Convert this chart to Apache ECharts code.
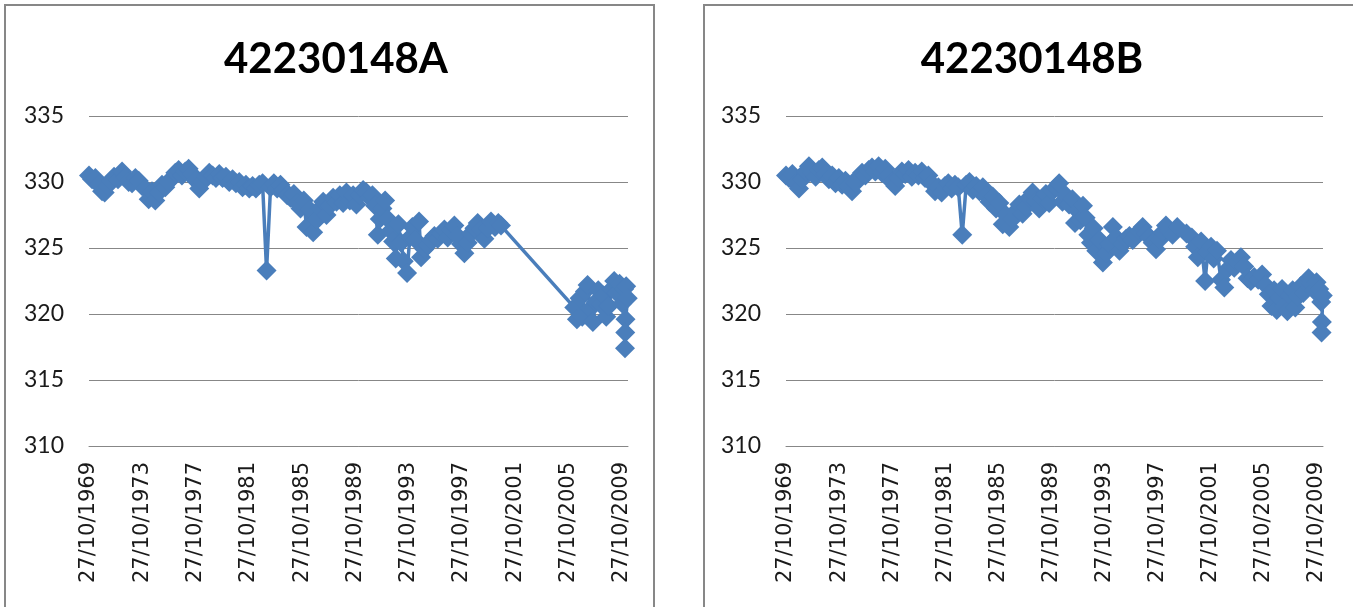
<!DOCTYPE html>
<html>
<head>
<meta charset="utf-8">
<script src="https://cdn.jsdelivr.net/npm/echarts@6/dist/echarts.min.js"></script>
<style>
  html, body { margin: 0; padding: 0; background: #fff; }
  #chart { width: 1353px; height: 607px; }
</style>
</head>
<body>
<div id="chart"></div>
<script>
// titles
let titleA = "42230148A";
let titleB = "42230148B";

// level axis ticks
let levelMin = 310;
let levelMax = 335;
let levelStep = 5;

// date axis: days since 27/10/1969, one label every 4 years (1461 days)
let firstYear = 1969.82;
let dateStep = 1461;
let dateMax = 14780;

// series A, decimal years and levels
let yearsA = [
  1969.82, 1970.05, 1970.30, 1970.55, 1970.80, 1971.00, 1971.20, 1971.45, 1971.70, 1972.00,
  1972.30, 1972.55, 1972.80, 1973.05, 1973.30, 1973.55, 1973.80, 1974.05, 1974.30, 1974.55,
  1974.80, 1975.05, 1975.30, 1975.55, 1975.80, 1976.05, 1976.30, 1976.55, 1976.80, 1977.05,
  1977.30, 1977.55, 1977.85, 1978.10, 1978.35, 1978.60, 1978.85, 1979.10, 1979.35, 1979.60,
  1979.85, 1980.10, 1980.35, 1980.60, 1980.85, 1981.10, 1981.35, 1981.60, 1981.85, 1982.10,
  1982.35, 1982.60, 1982.85, 1983.15, 1983.45, 1983.70, 1983.95, 1984.20, 1984.45, 1984.70,
  1984.95, 1985.20, 1985.45, 1985.70, 1985.95, 1986.15, 1986.40, 1986.65, 1986.90, 1987.15,
  1987.40, 1987.65, 1987.90, 1988.15, 1988.40, 1988.65, 1988.90, 1989.15, 1989.40, 1989.65,
  1989.90, 1990.15, 1990.40, 1990.65, 1990.90, 1991.10, 1991.30, 1991.50, 1991.65, 1991.85,
  1992.05, 1992.25, 1992.45, 1992.65, 1992.85, 1993.05, 1993.25, 1993.45, 1993.70, 1993.90,
  1994.10, 1994.35, 1994.60, 1994.75, 1995.00, 1995.25, 1995.50, 1995.75, 1996.00, 1996.25,
  1996.50, 1996.75, 1997.00, 1997.25, 1997.50, 1997.75, 1998.00, 1998.25, 1998.50, 1998.75,
  1999.00, 1999.25, 1999.50, 1999.75, 2000.00, 2000.30, 2000.55, 2000.75,
  2006.25, 2006.45, 2006.65, 2006.85, 2007.05, 2007.25, 2007.45, 2007.65, 2007.85, 2008.05,
  2008.25, 2008.45, 2008.65, 2008.85, 2009.05, 2009.25, 2009.45, 2009.65, 2009.85, 2010.00,
  2010.15, 2010.27, 2010.10, 2010.08, 2010.06
];
let levelsA = [
  330.5, 330.2, 330.3, 329.8, 329.3, 329.2, 329.7, 330.1, 330.4, 330.2,
  330.8, 330.4, 330.0, 329.9, 330.3, 330.1, 329.7, 329.5, 328.7, 329.3,
  328.6, 329.2, 329.8, 329.6, 330.0, 330.3, 330.7, 330.9, 330.5, 330.8,
  331.0, 330.6, 330.1, 329.5, 330.0, 330.4, 330.7, 330.5, 330.3, 330.6,
  330.3, 330.4, 330.0, 330.2, 329.9, 330.0, 329.6, 329.8, 329.5, 329.7,
  329.5, 329.8, 329.9, 323.3, 329.6, 329.9, 329.5, 329.8, 329.4, 329.0,
  328.8, 329.1, 328.4, 328.0, 328.6, 326.6, 327.9, 326.2, 327.1, 328.0,
  328.5, 327.5, 328.2, 328.8, 328.5, 329.0, 328.4, 329.2, 328.6, 329.0,
  328.3, 329.0, 329.4, 329.2, 328.8, 329.0, 328.2, 326.0, 327.2, 328.0,
  328.6, 327.2, 326.3, 325.5, 324.2, 326.8, 325.4, 324.0, 323.1, 325.8,
  326.6, 325.6, 327.0, 324.3, 324.9, 325.2, 325.6, 325.9, 325.7, 326.1,
  326.4, 325.8, 326.3, 326.7, 325.9, 325.3, 324.6, 325.4, 326.1, 326.5,
  326.9, 326.4, 325.7, 326.5, 327.0, 326.6, 326.9, 326.7,
  320.5, 319.6, 321.2, 319.8, 321.7, 322.2, 320.4, 319.4, 320.9, 321.8,
  320.7, 321.4, 319.8, 320.6, 321.9, 322.5, 321.6, 322.3, 320.8, 321.9,
  322.1, 321.2, 319.6, 318.6, 317.4
];

// series B, decimal years and levels
let yearsB = [
  1969.82, 1970.05, 1970.30, 1970.55, 1970.80, 1971.05, 1971.30, 1971.55, 1971.80, 1972.05,
  1972.30, 1972.55, 1972.80, 1973.05, 1973.30, 1973.55, 1973.80, 1974.05, 1974.30, 1974.55,
  1974.80, 1975.05, 1975.30, 1975.55, 1975.80, 1976.05, 1976.30, 1976.55, 1976.80, 1977.05,
  1977.30, 1977.55, 1977.80, 1978.05, 1978.30, 1978.55, 1978.80, 1979.05, 1979.30, 1979.55,
  1979.80, 1980.05, 1980.30, 1980.55, 1980.80, 1981.05, 1981.30, 1981.55, 1981.80, 1982.05,
  1982.30, 1982.55, 1982.80, 1983.10, 1983.40, 1983.65, 1983.90, 1984.15, 1984.40, 1984.65,
  1984.90, 1985.15, 1985.40, 1985.65, 1985.90, 1986.15, 1986.40, 1986.65, 1986.90, 1987.15,
  1987.40, 1987.65, 1987.90, 1988.15, 1988.40, 1988.65, 1988.90, 1989.15, 1989.40, 1989.65,
  1989.90, 1990.15, 1990.40, 1990.65, 1990.90, 1991.15, 1991.40, 1991.60, 1991.80, 1992.00,
  1992.20, 1992.40, 1992.60, 1992.80, 1993.00, 1993.20, 1993.45, 1993.70, 1993.95, 1994.20,
  1994.45, 1994.70, 1994.95, 1995.20, 1995.45, 1995.70, 1995.95, 1996.20, 1996.45, 1996.70,
  1996.95, 1997.20, 1997.45, 1997.70, 1997.95, 1998.20, 1998.45, 1998.70, 1998.95, 1999.30,
  2000.00, 2000.40, 2000.65, 2000.85, 2001.10, 2001.40, 2001.60, 2001.85, 2002.05, 2002.30,
  2002.60, 2002.85, 2003.10, 2003.35, 2003.60, 2003.85, 2004.10, 2004.35, 2004.60, 2004.85,
  2005.10, 2005.40, 2005.70, 2005.95, 2006.20, 2006.40, 2006.60, 2006.80, 2007.00, 2007.20,
  2007.40, 2007.60, 2007.80, 2008.00, 2008.20, 2008.40, 2008.60, 2008.80, 2009.00, 2009.20,
  2009.40, 2009.60, 2009.80, 2010.00, 2010.15, 2010.27, 2010.20, 2010.18
];
let levelsB = [
  330.5, 330.3, 330.6, 329.9, 329.5, 330.2, 330.8, 331.2, 330.7, 330.4,
  330.9, 331.1, 330.6, 330.2, 330.5, 329.9, 330.3, 329.8, 330.1, 329.7,
  329.3, 329.9, 330.4, 330.7, 330.5, 330.9, 331.1, 330.8, 331.2, 330.7,
  331.0, 330.5, 330.0, 329.7, 330.3, 330.8, 330.6, 330.9, 330.4, 330.7,
  330.5, 330.8, 330.3, 330.5, 329.9, 329.3, 329.6, 329.2, 329.7, 329.9,
  329.5, 329.8, 329.6, 326.0, 329.8, 330.0, 329.4, 329.7, 329.3, 329.6,
  329.0, 328.5, 328.9, 328.0, 328.4, 326.8, 327.5, 326.6, 327.2, 327.8,
  328.3, 327.6, 328.1, 328.8, 329.2, 328.5, 328.0, 328.7, 329.1, 328.4,
  329.3, 329.6, 329.9, 328.5, 329.0, 328.3, 328.7, 326.9, 327.8, 327.1,
  328.2, 327.3, 326.0, 325.4, 326.5, 324.8, 325.6, 323.9, 324.6, 325.3,
  326.6, 325.8, 324.8, 325.3, 325.7, 325.9, 325.6, 326.0, 326.3, 326.6,
  326.1, 325.8, 325.4, 324.9, 325.6, 326.2, 326.7, 326.3, 326.0, 326.6,
  326.1, 325.8, 325.1, 324.3, 325.5, 322.5, 324.7, 325.1, 324.2, 324.8,
  322.6, 322.0, 323.4, 324.1, 323.5, 323.9, 324.3, 323.6, 322.7, 322.5,
  322.8, 322.6, 323.0, 322.2, 321.5, 320.6, 321.8, 320.3, 321.2, 321.9,
  320.6, 320.2, 321.4, 321.8, 320.5, 321.3, 322.1, 321.6, 322.4, 322.7,
  322.3, 321.8, 322.4, 321.9, 320.9, 321.4, 319.4, 318.6
];

let epoch = Date.UTC(1969, 9, 27);

function toPairs(years, levels) {
  return years.map(function (y, i) {
    return [Math.round((y - firstYear) * 365.25), levels[i]];
  });
}

function dateLabel(value) {
  if (value % dateStep !== 0) {
    return "";
  }
  let d = new Date(epoch + value * 86400000);
  let dd = String(d.getUTCDate()).padStart(2, "0");
  let mm = String(d.getUTCMonth() + 1).padStart(2, "0");
  return dd + "/" + mm + "/" + d.getUTCFullYear();
}

let gridLine = "#878787";
let blue = "#4a7ebb";

function xAxisFor(index) {
  return {
    type: "value",
    gridIndex: index,
    min: 0,
    max: dateMax,
    interval: dateStep,
    axisLine: { show: true, lineStyle: { color: gridLine, width: 1 } },
    axisTick: { show: false },
    splitLine: { show: false },
    axisLabel: {
      rotate: 90,
      margin: 16,
      fontFamily: "DejaVu Sans",
      fontSize: 21,
      color: "#1a1a1a",
      showMaxLabel: false,
      formatter: dateLabel
    }
  };
}

function yAxisFor(index) {
  return {
    type: "value",
    gridIndex: index,
    min: levelMin,
    max: levelMax,
    interval: levelStep,
    axisLine: { show: false },
    axisTick: { show: false },
    splitLine: { show: true, lineStyle: { color: gridLine, width: 1 } },
    axisLabel: {
      margin: 25,
      fontFamily: "Lato",
      fontSize: 23,
      color: "#1a1a1a"
    }
  };
}

function seriesFor(index, data) {
  return {
    type: "line",
    xAxisIndex: index,
    yAxisIndex: index,
    data: data,
    symbol: "diamond",
    symbolSize: 20,
    showAllSymbol: true,
    clip: false,
    lineStyle: { color: blue, width: 3.5 },
    itemStyle: { color: blue },
    emphasis: { disabled: true }
  };
}

let myChart = echarts.init(document.getElementById("chart"));

myChart.setOption({
  animation: false,
  backgroundColor: "#fff",
  title: [
    {
      text: titleA,
      left: 331,
      top: 33,
      textAlign: "center",
      textStyle: { fontFamily: "Lato", fontWeight: "bold", fontSize: 42, color: "#000" }
    },
    {
      text: titleB,
      left: 1027,
      top: 33,
      textAlign: "center",
      textStyle: { fontFamily: "Lato", fontWeight: "bold", fontSize: 42, color: "#000" }
    }
  ],
  graphic: [
    {
      type: "rect",
      shape: { x: 5, y: 5, width: 649, height: 700 },
      style: { fill: "none", stroke: gridLine, lineWidth: 2 }
    },
    {
      type: "rect",
      shape: { x: 704, y: 5, width: 700, height: 700 },
      style: { fill: "none", stroke: gridLine, lineWidth: 2 }
    }
  ],
  grid: [
    { left: 89, top: 116, width: 539, height: 330 },
    { left: 786, top: 116, width: 537, height: 330 }
  ],
  xAxis: [xAxisFor(0), xAxisFor(1)],
  yAxis: [yAxisFor(0), yAxisFor(1)],
  series: [
    seriesFor(0, toPairs(yearsA, levelsA)),
    seriesFor(1, toPairs(yearsB, levelsB))
  ]
});
</script>
</body>
</html>
